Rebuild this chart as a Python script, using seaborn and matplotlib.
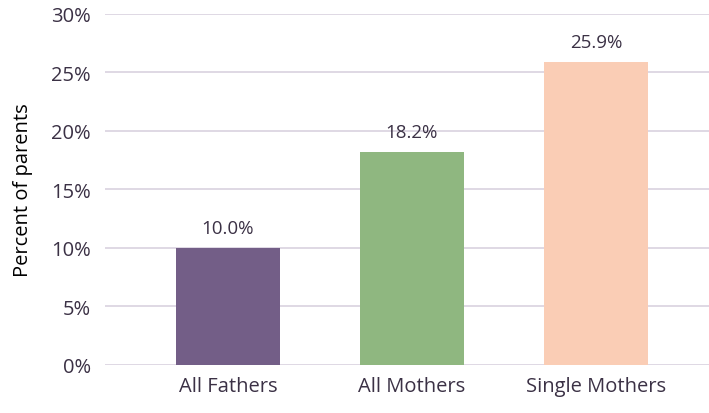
import matplotlib
matplotlib.use("Agg")
import matplotlib.pyplot as plt
import seaborn as sns
import pandas as pd

categories = ["All Fathers", "All Mothers", "Single Mothers"]
percent = [10.0, 18.2, 25.9]
bar_colors = ["#735E87", "#8FB780", "#FACDB5"]
y_ticks = [0, 5, 10, 15, 20, 25, 30]

text_color = "#3B3145"
grid_color = "#DCD5E2"

sns.set_theme(style="white")
plt.rcParams['font.family'] = ['Open Sans', 'DejaVu Sans']

df = pd.DataFrame({"group": categories, "pct": percent})

fig = plt.figure(figsize=(7.09, 4.14), dpi=100)
ax = fig.add_axes([0.148, 0.116, 0.852, 0.848])

sns.barplot(data=df, x="group", y="pct", hue="group", palette=bar_colors,
            width=0.565, legend=False, ax=ax, saturation=1, linewidth=0, zorder=3)

for i, v in enumerate(percent):
    ax.annotate(f"{v:.1f}%", (i, v), xytext=(0, 8), textcoords="offset points",
                ha="center", va="bottom", fontsize=13.5, color=text_color)

ax.set_ylim(0, 30)
ax.set_xlim(-0.668, 2.614)
ax.set_yticks(y_ticks)
ax.set_yticklabels([f"{t}%" for t in y_ticks])
ax.yaxis.grid(True, color=grid_color, linewidth=1.3, zorder=0)
ax.set_axisbelow(True)
for s in ax.spines.values():
    s.set_visible(False)

ax.tick_params(axis="both", length=0, labelsize=14.5, colors=text_color)
ax.tick_params(axis="y", pad=10)
ax.tick_params(axis="x", pad=8)
ax.set_xlabel("")
ax.set_ylabel("Percent of parents", fontsize=14.5, color="black", labelpad=13)

fig.savefig("out.png", dpi=100)
